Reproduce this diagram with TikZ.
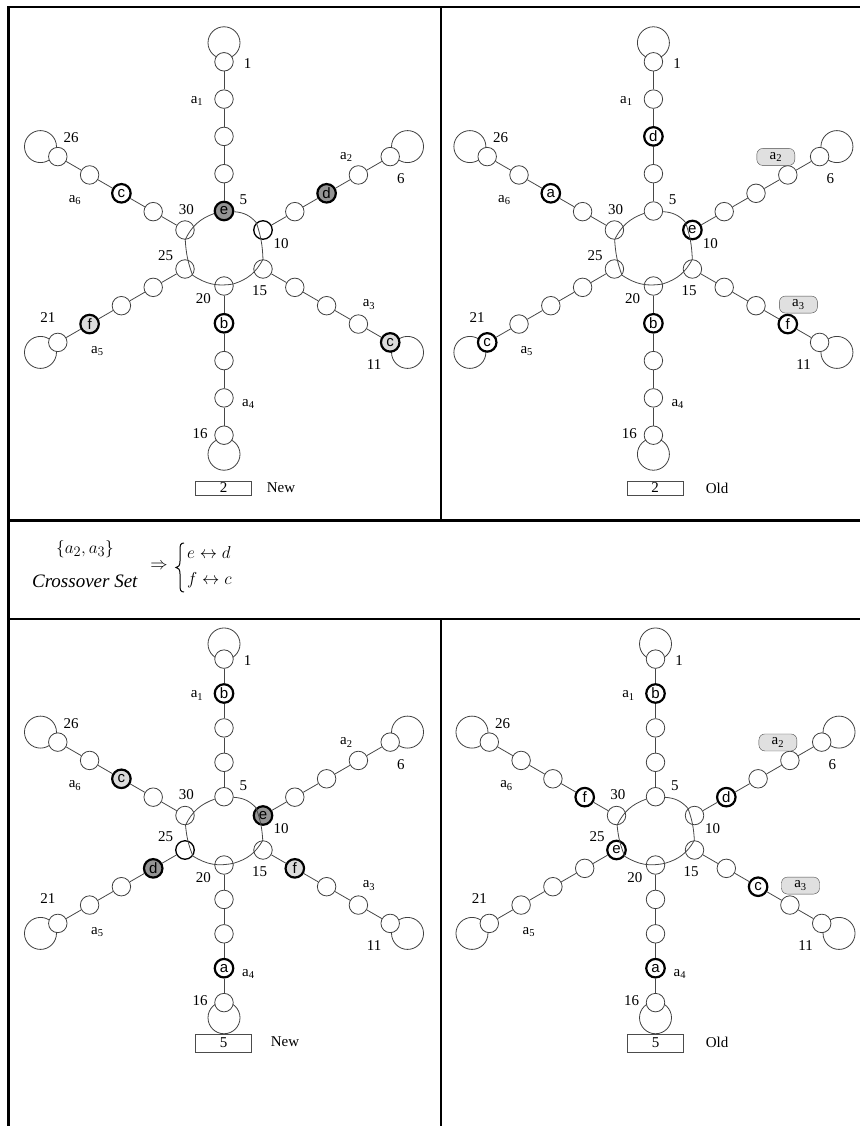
\documentclass[tikz,border=0pt]{standalone}
\usepackage{fontspec}
\setmainfont{Liberation Serif}
\newfontfamily\lsans{Liberation Sans}
\newcommand\hl[3]{\tikzset{#1/.style={#2}}\expandafter\def\csname txt#1\endcsname{#3}}
\newcommand\gnode[3]{\node[#3,#1/.try] (#1) at #2 {\ifcsname txt#1\endcsname\csname txt#1\endcsname\fi};}
\newcommand\glabel[4]{\node[lbl,#1/.try] (#1) at ([shift={#3}]#2) {#4};}
\newcommand\asub[1]{a\textsubscript{#1}}
% #1 prefix, #2 #3 hub, #4 top ring offset, #5 upper side, #6 lower side, #7 bottom ring offset,
% #8 vertical step, #9 vertical loop factor
\newcommand\hexgraph[9]{%
\begin{scope}[shift={(#2,#3)}]
\foreach \q/\sx/\sy/\tx/\ty/\lf in {5/0/-#4/0/-#8/#9, 10/39/-#5/31.8/-18.35/4.545, 15/39/#6/31.8/18.35/4.545,
   20/0/#7/0/#8/#9, 25/-39/#6/-31.8/18.35/4.545, 30/-39/-#5/-31.8/-18.35/4.545}{%
  \edef\nm{#1L\q}\expandafter\gnode\expandafter{\nm}{(\sx+\lf*\tx,\sy+\lf*\ty)}{loopc}%
  \edef\nm{#1r\q}\expandafter\gnode\expandafter{\nm}{(\sx,\sy)}{nd}%
  \foreach \k in {1,2,3,4}{\edef\nm{#1s\q-\k}\expandafter\gnode\expandafter{\nm}{(\sx+\k*\tx,\sy+\k*\ty)}{nd}}%
}
\end{scope}
\foreach \q in {5,10,15,20,25,30}{\draw[edge] (#1r\q) -- (#1s\q-1) -- (#1s\q-2) -- (#1s\q-3) -- (#1s\q-4);}
\draw[edge] (#1r5) to[bend left=22] (#1r10) to[bend left=8] (#1r15) to[bend left=22] (#1r20)
  to[bend left=22] (#1r25) to[bend left=8] (#1r30) to[bend left=22] (#1r5);
\glabel{#1l1}{#1s5-4}{(23.7,1.6)}{1}
\glabel{#1la1}{#1s5-3}{(-27,2)}{\asub1}
\glabel{#1l26}{#1s30-4}{(13.4,-19)}{26}
\glabel{#1la2}{#1s10-3}{(-12,-18)}{\asub2}
\glabel{#1l6}{#1s10-4}{(10.7,22.3)}{6}
\glabel{#1la6}{#1s30-3}{(-14.6,25)}{\asub6}
\glabel{#1l30}{#1r30}{(1.3,-20.7)}{30}
\glabel{#1l5}{#1r5}{(19.3,-11)}{5}
\glabel{#1l10}{#1r10}{(18,13.3)}{10}
\glabel{#1l25}{#1r25}{(-19.3,-13)}{25}
\glabel{#1l20}{#1r20}{(-20.7,12.3)}{20}
\glabel{#1l15}{#1r15}{(-3.3,21.7)}{15}
\glabel{#1la3}{#1s15-3}{(10.6,-19.5)}{\asub3}
\glabel{#1l21}{#1s25-4}{(-10,-25)}{21}
\glabel{#1la5}{#1s25-3}{(7.7,27)}{\asub5}
\glabel{#1l11}{#1s15-4}{(-16,22)}{11}
\glabel{#1la4}{#1s20-3}{(24.3,6)}{\asub4}
\glabel{#1l16}{#1s20-4}{(-24,-1.7)}{16}
}
\begin{document}
\begin{tikzpicture}[x=1pt,y=-1pt,
  frame/.style={line width=2.2pt,black},
  edge/.style={draw=black!72,line width=0.8pt},
  nd/.style={circle,draw=black!75,line width=0.8pt,fill=white,minimum size=18.5pt,inner sep=0pt,
     font=\lsans\fontsize{15}{15}\selectfont},
  bold/.style={draw=black,line width=2.2pt},
  boldL/.style={bold,fill=black!14},
  boldM/.style={bold,fill=black!42},
  med/.style={draw=black,line width=1.3pt},
  loopc/.style={circle,draw=black!75,line width=0.8pt,minimum size=32pt,inner sep=0pt},
  lbl/.style={inner sep=0pt,font=\fontsize{15}{15}\selectfont},
  abox/.style={draw=black!70,fill=black!12,rounded corners=6pt,minimum width=38pt,minimum height=17pt},
  numbox/.style={draw=black!70,line width=0.8pt,minimum width=56pt,minimum height=14pt,inner sep=0pt,
     font=\fontsize{15}{15}\selectfont},
  big/.style={inner sep=0pt,font=\fontsize{19}{23}\selectfont}]
\useasboundingbox (0,0) rectangle (860,1126);
% frame
\draw[frame] (8.5,1126) -- (8.5,7) -- (860,7);
\draw[frame] (8.5,520.5) -- (860,520.5);
\draw[frame] (8.5,619) -- (860,619);
\draw[frame] (441,7) -- (441,520.5);
\draw[frame] (441,619) -- (441,1126);
% top left
\hl{TLr5}{boldM}{e}\hl{TLs10-2}{boldM}{d}\hl{TLs30-2}{bold}{c}\hl{TLs20-1}{bold}{b}
\hl{TLs25-3}{boldL}{f}\hl{TLs15-4}{boldL}{c}\hl{TLr10}{med}{}
\hexgraph{TL}{224}{248.5}{37.5}{18.5}{20.5}{37.5}{37.3}{4.51}
\node[numbox] (TLbox) at (223.7,488) {2};
\node[lbl] (TLnew) at (281,488) {New};
% top right
\hl{TRs5-2}{bold}{d}\hl{TRs30-2}{bold}{a}\hl{TRr10}{bold}{e}\hl{TRs20-1}{bold}{b}
\hl{TRs15-3}{bold}{f}\hl{TRs25-4}{bold}{c}
\tikzset{TRla2/.style={abox},TRla3/.style={abox}}
\hexgraph{TR}{653.4}{248.5}{37.5}{18.5}{20.5}{37.5}{37.3}{4.51}
\node[numbox] (TRbox) at (655,488) {2};
\node[lbl] (TRold) at (717,488) {Old};
% crossover row
\node[big] (cset) at (85,549) {$\{a_2,a_3\}$};
\node[big] (cname) at (85,581) {\textit{Crossover Set}};
\node[big] (cimp) at (159,566) {$\Rightarrow$};
\draw[line width=1pt] (184,543) .. controls (180.5,543) and (180,545) .. (180,550) -- (180,561)
  .. controls (180,565.5) and (178.5,567.5) .. (176,567.5)
  .. controls (178.5,567.5) and (180,569.5) .. (180,574) -- (180,585)
  .. controls (180,590) and (180.5,592) .. (184,592);
\node[big,anchor=west] (cswap1) at (187,552) {$e\leftrightarrow d$};
\node[big,anchor=west] (cswap2) at (187,580) {$f\leftrightarrow c$};
% bottom left
\hl{BLs5-3}{bold}{b}\hl{BLs30-2}{boldL}{c}\hl{BLr10}{boldM}{e}\hl{BLs25-1}{boldM}{d}
\hl{BLs15-1}{boldL}{f}\hl{BLs20-3}{bold}{a}\hl{BLr25}{med}{}
\hexgraph{BL}{224}{831}{34.3}{15.5}{19}{34}{34.4}{4.44}
\node[numbox,minimum height=18pt] (BLbox) at (223.7,1043) {5};
\node[lbl] (BLnew) at (285,1042) {New};
% bottom right
\hl{BRs5-3}{bold}{b}\hl{BRs30-1}{bold}{f}\hl{BRs10-1}{bold}{d}\hl{BRr25}{bold}{e}
\hl{BRs15-2}{bold}{c}\hl{BRs20-3}{bold}{a}
\tikzset{BRla2/.style={abox},BRla3/.style={abox}}
\hexgraph{BR}{655.5}{831}{34.3}{15.5}{19}{34}{34.4}{4.44}
\node[numbox,minimum height=18pt] (BRbox) at (655.5,1043) {5};
\node[lbl] (BRold) at (717,1042) {Old};
\end{tikzpicture}
\end{document}
